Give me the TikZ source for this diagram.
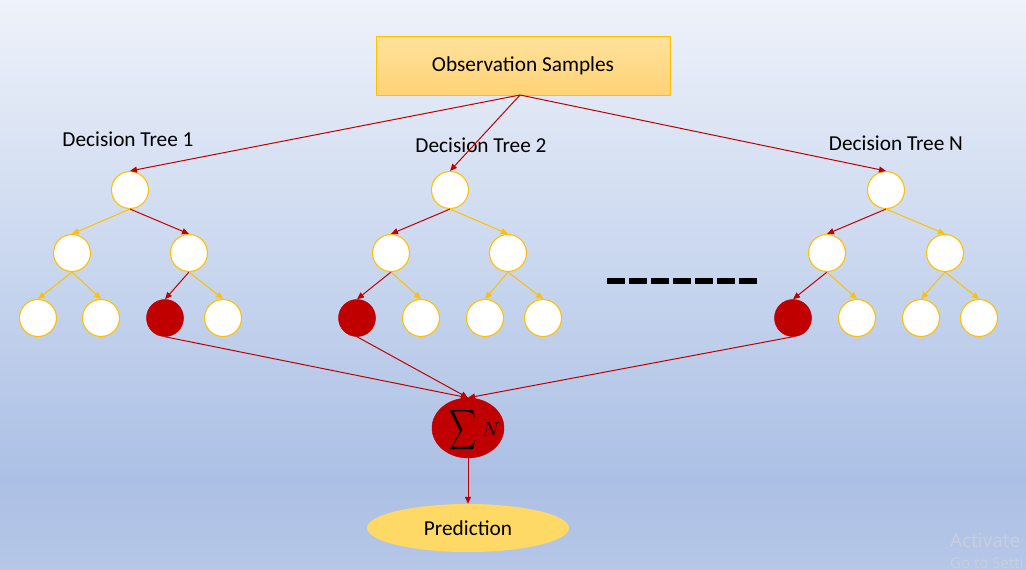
\documentclass[tikz,border=0pt]{standalone}
\usepackage{fontspec}
\setmainfont{Carlito}
\newfontfamily\wmfont{Open Sans}
\usetikzlibrary{arrows.meta,shapes.geometric}
\definecolor{dred}{RGB}{192,0,0}
\definecolor{gold}{RGB}{255,192,0}
\definecolor{bgtop}{RGB}{238,242,250}
\definecolor{bgmid}{RGB}{196,211,237}
\definecolor{bgbot}{RGB}{172,192,229}
\definecolor{boxtop}{RGB}{255,226,156}
\definecolor{boxbot}{RGB}{255,210,118}
\definecolor{predfill}{RGB}{255,217,102}
\definecolor{wmgray}{RGB}{200,207,222}
\begin{document}
\begin{tikzpicture}[x=1pt,y=-1pt,
  tnode/.style={circle,draw=gold,line width=1.1pt,fill=white,minimum size=37pt,inner sep=0pt},
  rnode/.style={circle,draw=dred,line width=0.5pt,fill=dred,minimum size=37pt,inner sep=0pt},
  oedge/.style={draw=gold,line width=1pt,-{Triangle[length=7pt,width=6pt]}},
  redge/.style={draw=dred,line width=1pt,-{Triangle[length=7pt,width=6pt]}},
  lbl/.style={font=\fontsize{21.3}{24}\selectfont,text=black,inner sep=0pt}
]
\useasboundingbox (0,0) rectangle (1026,570);
\shade[top color=bgtop,bottom color=bgmid] (0,0) rectangle (1026,300);
\shade[top color=bgmid,bottom color=bgbot] (0,300) rectangle (1026,480);
\shade[top color=bgbot,bottom color={rgb,255:red,182;green,199;blue,231}] (0,480) rectangle (1026,570);

% top box
\node[draw=gold,line width=1pt,top color=boxtop,bottom color=boxbot,minimum width=294pt,minimum height=59pt,inner sep=0pt,font=\fontsize{21.3}{24}\selectfont] (obs) at (523,65.5) {Observation Samples};
\coordinate (obsb) at (520,95);

% labels
\node[lbl] (l1) at (128,139) {Decision Tree 1};
\node[lbl] (l2) at (481,145) {Decision Tree 2};
\node[lbl] (l3) at (896,143) {Decision Tree N};

% tree 1
\node[tnode] (a0) at (130,190) {};
\node[tnode] (a1) at (72,253) {};
\node[tnode] (a2) at (189,253) {};
\node[tnode] (a3) at (38,318) {};
\node[tnode] (a4) at (101,318) {};
\node[rnode] (a5) at (165,318) {};
\node[tnode] (a6) at (223,318) {};
% tree 2
\node[tnode] (b0) at (450,190) {};
\node[tnode] (b1) at (391,253) {};
\node[tnode] (b2) at (508,253) {};
\node[rnode] (b3) at (357,318) {};
\node[tnode] (b4) at (421,318) {};
\node[tnode] (b5) at (485,318) {};
\node[tnode] (b6) at (543,318) {};
% tree N
\node[tnode] (c0) at (886,190) {};
\node[tnode] (c1) at (827,253) {};
\node[tnode] (c2) at (945,253) {};
\node[rnode] (c3) at (793,318) {};
\node[tnode] (c4) at (857,318) {};
\node[tnode] (c5) at (921,318) {};
\node[tnode] (c6) at (979,318) {};

% edges from box
\draw[redge] (obsb) -- (a0.north);
\draw[redge] (obsb) -- (b0.north);
\draw[redge] (obsb) -- (c0.north);

% tree 1 edges
\draw[oedge] (a0.south) -- (a1.north);
\draw[redge] (a0.south) -- (a2.north);
\draw[oedge] (a1.south) -- (a3.north);
\draw[oedge] (a1.south) -- (a4.north);
\draw[redge] (a2.south) -- (a5.north);
\draw[oedge] (a2.south) -- (a6.north);
% tree 2 edges
\draw[redge] (b0.south) -- (b1.north);
\draw[oedge] (b0.south) -- (b2.north);
\draw[redge] (b1.south) -- (b3.north);
\draw[oedge] (b1.south) -- (b4.north);
\draw[oedge] (b2.south) -- (b5.north);
\draw[oedge] (b2.south) -- (b6.north);
% tree N edges
\draw[redge] (c0.south) -- (c1.north);
\draw[oedge] (c0.south) -- (c2.north);
\draw[redge] (c1.south) -- (c3.north);
\draw[oedge] (c1.south) -- (c4.north);
\draw[oedge] (c2.south) -- (c5.north);
\draw[oedge] (c2.south) -- (c6.north);

% dashed separator
\coordinate (d1) at (607,281);
\coordinate (d2) at (759,281);
\draw[line width=6.5pt,dash pattern=on 17.5pt off 4.5pt] (d1) -- (d2);

% sum node
\node[ellipse,fill=dred,draw=dred,minimum width=72pt,minimum height=60pt,inner sep=0pt] (sum) at (468,428) {};
\node[inner sep=0pt] (sumsym) at (463,430) {\scalebox{1.9}[2.8]{$\displaystyle\sum$}};
\node[inner sep=0pt] (sumN) at (491,430) {\scalebox{2}{$N$}};

\draw[redge] (a5.south) -- (sum.north);
\draw[redge] (b3.south) -- (sum.north);
\draw[redge] (c3.south) -- (sum.north);

% prediction
\node[ellipse,fill=predfill,draw=none,minimum width=202pt,minimum height=48pt,inner sep=0pt,font=\fontsize{21.3}{24}\selectfont] (pred) at (468,528) {Prediction};
\draw[redge] (sum.south) -- (pred.north);

% watermark
\begin{scope}
\clip (0,0) rectangle (1026,570);
\node[anchor=west,inner sep=0pt,text=wmgray,font=\wmfont\fontsize{19}{20}\selectfont] (wm1) at (950,541) {Activate};
\node[anchor=west,inner sep=0pt,text=wmgray,font=\wmfont\fontsize{15}{16}\selectfont] (wm2) at (950,563) {Go to Setti};
\end{scope}
\end{tikzpicture}
\end{document}
